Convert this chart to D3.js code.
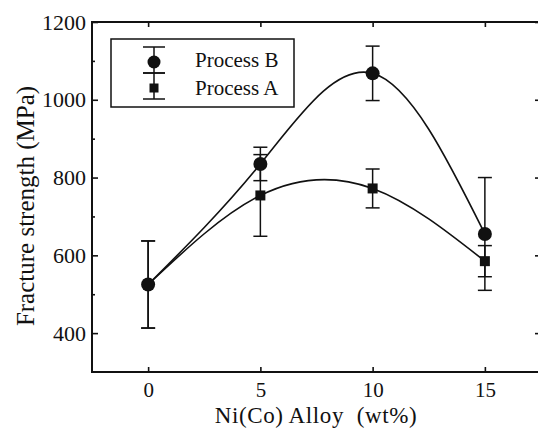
<!DOCTYPE html>
<html>
<head>
<meta charset="utf-8">
<script src="https://cdn.jsdelivr.net/npm/d3@7"></script>
<style>
  body { margin: 0; background: #fff; }
  .axis path { display: none; }
  .axis line { stroke: #111; stroke-width: 1.6; }
</style>
</head>
<body>
<div id="chart-area"></div>
<script>
const alloy = [0, 5, 10, 15];
const strengthB = [525, 835, 1068, 655];
const errB = [112, 43, 70, 145];
const strengthA = [525, 754, 772, 585];
const errA = [112, 105, 50, 40];
const xTicks = [0, 5, 10, 15];
const yTicks = [400, 600, 800, 1000, 1200];
const yMinorTicks = [500, 700, 900, 1100];

const serif = '"Liberation Serif", "DejaVu Serif", serif';

const margin = { top: 22, right: -3, bottom: 57, left: 92 },
    width  = 538 - margin.left - margin.right,
    height = 429 - margin.top - margin.bottom;

const svg = d3.select('#chart-area')
    .append('svg')
    .attr('width', 538)
    .attr('height', 429)
    .append('g')
    .attr('transform', `translate(${margin.left},${margin.top})`);

const x = d3.scaleLinear().domain([-2.5, 17.5]).range([0, width]);
const y = d3.scaleLinear().domain([300, 1200]).range([height, 0]);

// axes, ticks pointing inward
svg.append('g')
    .attr('class', 'axis')
    .attr('transform', `translate(0, ${height})`)
    .call(d3.axisBottom(x).tickValues(xTicks).tickSize(-5).tickSizeOuter(0).tickPadding(10))
    .call(g => g.selectAll('text').style('font-family', serif).style('font-size', '21px').attr('fill', '#111'));

svg.append('g')
    .attr('class', 'axis')
    .call(d3.axisTop(x).tickValues(xTicks).tickSize(-5).tickSizeOuter(0).tickFormat(''));

svg.append('g')
    .attr('class', 'axis')
    .call(d3.axisLeft(y).tickValues(yTicks).tickSize(-6).tickSizeOuter(0).tickPadding(6).tickFormat(d3.format('d')))
    .call(g => g.selectAll('text').style('font-family', serif).style('font-size', '22px').attr('fill', '#111'));

svg.append('g')
    .attr('class', 'axis')
    .call(d3.axisLeft(y).tickValues(yMinorTicks).tickSize(-3).tickSizeOuter(0).tickFormat(''));

svg.append('g')
    .attr('class', 'axis')
    .attr('transform', `translate(${width}, 0)`)
    .call(d3.axisRight(y).tickValues(yTicks).tickSize(-6).tickSizeOuter(0).tickFormat(''));

svg.append('rect')
    .attr('width', width)
    .attr('height', height)
    .attr('fill', 'none')
    .attr('stroke', '#111')
    .attr('stroke-width', 2);

const line = d3.line()
    .x(d => x(d[0]))
    .y(d => y(d[1]))
    .curve(d3.curveNatural);

const seriesA = alloy.map((a, i) => [a, strengthA[i], errA[i]]);
const seriesB = alloy.map((a, i) => [a, strengthB[i], errB[i]]);

[seriesA, seriesB].forEach(s => {
    svg.append('path')
        .datum(s)
        .attr('d', line)
        .attr('fill', 'none')
        .attr('stroke', '#111')
        .attr('stroke-width', 1.6);
});

function errorBars(s, cap) {
    const g = svg.append('g').attr('stroke', '#111').attr('stroke-width', 1.5);
    s.forEach(d => {
        g.append('line')
            .attr('x1', x(d[0])).attr('x2', x(d[0]))
            .attr('y1', y(d[1] - d[2])).attr('y2', y(d[1] + d[2]));
        [d[1] - d[2], d[1] + d[2]].forEach(v => {
            g.append('line')
                .attr('x1', x(d[0]) - cap).attr('x2', x(d[0]) + cap)
                .attr('y1', y(v)).attr('y2', y(v));
        });
    });
}
errorBars(seriesA, 7);
errorBars(seriesB, 7);

svg.selectAll('.sq')
    .data(seriesA)
    .enter()
    .append('rect')
    .attr('class', 'sq')
    .attr('x', d => x(d[0]) - 5)
    .attr('y', d => y(d[1]) - 5)
    .attr('width', 10)
    .attr('height', 10)
    .attr('fill', '#111');

svg.selectAll('.dot')
    .data(seriesB)
    .enter()
    .append('circle')
    .attr('class', 'dot')
    .attr('cx', d => x(d[0]))
    .attr('cy', d => y(d[1]))
    .attr('r', 7)
    .attr('fill', '#111');

// legend
const legend = svg.append('g').attr('transform', 'translate(19, 17)');
legend.append('rect')
    .attr('width', 183)
    .attr('height', 68)
    .attr('fill', 'none')
    .attr('stroke', '#111')
    .attr('stroke-width', 1.5);

const legendItems = [
    { label: 'Process B', shape: 'circle', cy: 23, baseline: 28 },
    { label: 'Process A', shape: 'square', cy: 49, baseline: 56 }
];
legendItems.forEach(item => {
    const g = legend.append('g').attr('stroke', '#111').attr('stroke-width', 1.5);
    g.append('line').attr('x1', 43).attr('x2', 43).attr('y1', item.cy - 15).attr('y2', item.cy + 11);
    g.append('line').attr('x1', 32).attr('x2', 54).attr('y1', item.cy - 15).attr('y2', item.cy - 15);
    g.append('line').attr('x1', 32).attr('x2', 54).attr('y1', item.cy + 11).attr('y2', item.cy + 11);
    if (item.shape === 'circle') {
        legend.append('circle').attr('cx', 43).attr('cy', item.cy).attr('r', 6.5).attr('fill', '#111');
    } else {
        legend.append('rect').attr('x', 38.5).attr('y', item.cy - 4.5).attr('width', 9).attr('height', 9).attr('fill', '#111');
    }
    legend.append('text')
        .attr('x', 84)
        .attr('y', item.baseline)
        .attr('fill', '#111')
        .style('font-family', serif)
        .style('font-size', '21px')
        .text(item.label);
});

svg.append('text')
    .attr('text-anchor', 'middle')
    .attr('x', 316 - margin.left)
    .attr('y', 422.5 - margin.top)
    .attr('fill', '#111')
    .style('font-family', serif)
    .style('font-size', '23px')
    .style('letter-spacing', '0.6px')
    .style('white-space', 'pre')
    .text('Ni(Co) Alloy  (wt%)');

svg.append('text')
    .attr('text-anchor', 'middle')
    .attr('transform', 'rotate(-90)')
    .attr('x', -(206 - margin.top))
    .attr('y', 34 - margin.left)
    .attr('fill', '#111')
    .style('font-family', serif)
    .style('font-size', '25px')
    .text('Fracture strength (MPa)');
</script>
</body>
</html>
